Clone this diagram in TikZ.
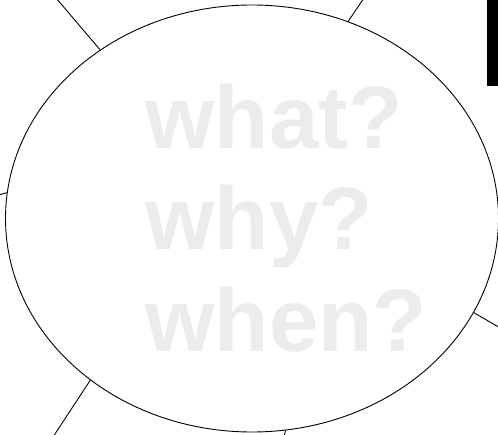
\documentclass[tikz,border=0pt]{standalone}
\usepackage{fontspec}
\newfontfamily\wordfont{Liberation Sans}
\usetikzlibrary{shapes.geometric, positioning}
\definecolor{wordgray}{RGB}{236,236,236}

\begin{document}
\begin{tikzpicture}[x=1pt, y=-1pt, line width=0.9pt,
    blob/.style={ellipse, draw, inner sep=0pt, minimum width=493pt, minimum height=427pt},
    word/.style={anchor=base west, inner sep=0pt, text=wordgray, font=\wordfont\bfseries\fontsize{89}{101}\selectfont}]
    \useasboundingbox (0,0) rectangle (498,435);

    \node[word] (what) at (145,149) {what?};
    \node[word] (why) at (145,250) {why?};
    \node[word] (when) at (145,352) {when?};

    \node[blob] (bubble) at (252,218.5) {};

    % loose ends of the spokes
    \coordinate (e1) at (56,-2);
    \coordinate (e2) at (364,-2);
    \coordinate (e3) at (-2,195);
    \coordinate (e4) at (502,329);
    \coordinate (e5) at (53,437);
    \coordinate (e6) at (284,437);

    \draw (bubble.132) -- (e1);
    \draw (bubble.64.75) -- (e2);
    \draw (bubble.174.5) -- (e3);
    \draw (bubble.-23.6) -- (e4);
    \draw (bubble.225.3) -- (e5);
    \draw (bubble.-81.4) -- (e6);

    \fill (487,0) rectangle (498,86);
\end{tikzpicture}
\end{document}
